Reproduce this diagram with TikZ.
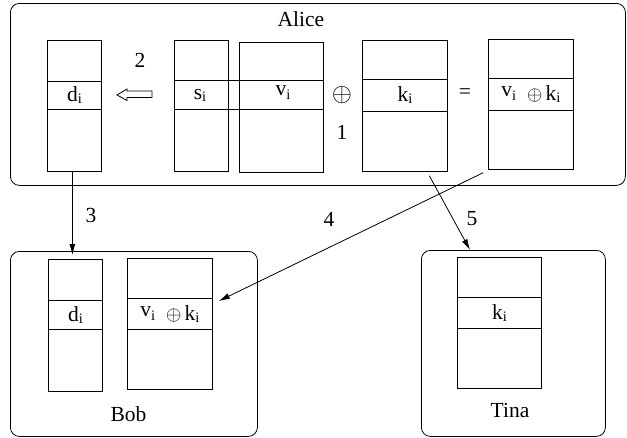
\documentclass[tikz,border=0pt]{standalone}
\usepackage{graphicx}
\usepackage{fontspec}
\setmainfont{Liberation Serif}
\usetikzlibrary{arrows.meta}
% lowered index letter, and a raised v with its index
\newcommand{\idx}[1]{\raisebox{-2pt}{\fontsize{14.5}{15}\selectfont #1}}
\newcommand{\vidx}{\raisebox{4pt}{v}{\fontsize{14.5}{15}\selectfont i}}
\newcommand{\bigxor}{\scalebox{1.25}{$\oplus$}}
\newcommand{\smallxor}{\scalebox{0.95}{$\oplus$}}
\tikzset{
  frame/.style={draw, rounded corners=9pt, line width=0.8pt, inner sep=0pt, anchor=north west},
  cell/.style={draw, line width=0.8pt, inner sep=0pt, anchor=north west},
  bigtext/.style={font=\fontsize{21.5}{25}\selectfont},
  lbl/.style={inner sep=0pt, bigtext},
  conn/.style={line width=0.8pt, -{Latex[length=11pt,width=6pt]}},
}
\begin{document}
\begin{tikzpicture}[x=1pt,y=-1pt]
\useasboundingbox (0,0) rectangle (627,437);

% party frames
\node[frame, minimum width=615pt, minimum height=182pt] (alice) at (10,3) {};
\node[frame, minimum width=247pt, minimum height=185pt] (bob) at (10,251) {};
\node[frame, minimum width=184pt, minimum height=186pt] (tina) at (421,250) {};
\node[lbl] (aliceL) at (301,19) {Alice};
\node[lbl] (bobL) at (128.5,414) {Bob};
\node[lbl] (tinaL) at (510,410.5) {Tina};

% Alice's tables
\node[cell, minimum width=54pt, minimum height=131pt] (aD) at (47,40) {};
\node[cell, minimum width=54pt, minimum height=28pt, bigtext] (aDb) at (47,81) {d\idx{i}};
\node[cell, minimum width=54pt, minimum height=131pt] (aS) at (174,40) {};
\node[cell, minimum width=84pt, minimum height=130pt] (aV) at (239,42) {};
\node[cell, minimum width=149pt, minimum height=29pt] (aSV) at (174,80) {};
\node[lbl] (sL) at (200,95) {s\idx{i}};
\node[lbl] (vL) at (283,93) {\vidx};
\node[cell, minimum width=85pt, minimum height=131pt] (aK) at (362,40) {};
\node[cell, minimum width=85pt, minimum height=32pt, bigtext] (aKb) at (362,79) {k\idx{i}};
\node[cell, minimum width=85pt, minimum height=130pt] (aVK) at (488,39) {};
\node[cell, minimum width=85pt, minimum height=32pt, bigtext] (aVKb) at (488,78)
  {\vidx\hspace{11pt}\smallxor\hspace{3pt}k\idx{i}};

% operators and step numbers inside Alice
\node[lbl] (xorL) at (342,95) {\bigxor};
\node[lbl] (eqL) at (465,94) {=};
\node[lbl] (n1) at (342,132) {1};
\node[lbl] (n2) at (140,60) {2};
\draw[line width=0.8pt] (117,95) -- (127,89) -- (127,91) -- (152,91) -- (152,97.5)
  -- (127,97.5) -- (127,100.5) -- cycle;

% Bob's tables
\node[cell, minimum width=54pt, minimum height=132pt] (bD) at (48,259) {};
\node[cell, minimum width=54pt, minimum height=29pt, bigtext] (bDb) at (48,300) {d\idx{i}};
\node[cell, minimum width=85pt, minimum height=131pt] (bVK) at (127,258) {};
\node[cell, minimum width=85pt, minimum height=31pt, bigtext] (bVKb) at (127,298)
  {\vidx\hspace{11pt}\smallxor\hspace{3pt}k\idx{i}};

% Tina's table
\node[cell, minimum width=84pt, minimum height=131pt] (tK) at (457,257) {};
\node[cell, minimum width=84pt, minimum height=31pt, bigtext] (tKb) at (457,297) {k\idx{i}};

% transfers
\draw[conn] ([xshift=-2pt]aD.south) -- ([xshift=-3pt,yshift=4pt]bD.north);
\draw[conn] ([xshift=-5pt,yshift=-3pt]aVK.south west) -- ([xshift=6pt,yshift=-3pt]bVKb.north east);
\draw[conn] ([xshift=24.5pt,yshift=-4pt]aK.south) -- ([xshift=13pt,yshift=7pt]tK.north west);
\node[lbl] (n3) at (91,215) {3};
\node[lbl] (n4) at (329,219) {4};
\node[lbl] (n5) at (472,219) {5};
\end{tikzpicture}
\end{document}
